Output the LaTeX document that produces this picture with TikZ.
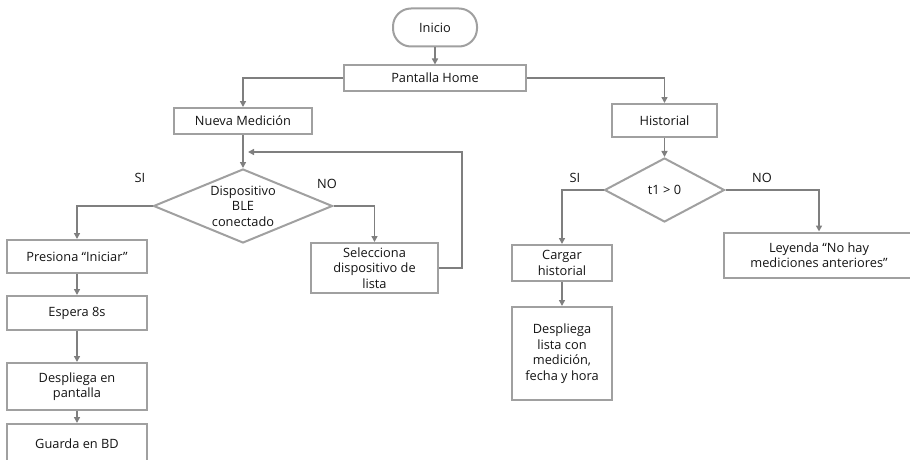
\documentclass[tikz,border=0pt]{standalone}
\usepackage{fontspec}
\setmainfont{Open Sans}
\usetikzlibrary{arrows.meta,shapes.geometric}
\definecolor{linegray}{RGB}{127,127,127}
\definecolor{boxgray}{RGB}{160,160,160}
\definecolor{txtgray}{RGB}{20,20,20}
\tikzset{every node/.style={font=\fontsize{12.8}{15.5}\selectfont, text=txtgray, align=center, inner sep=0pt},
  box/.style={rectangle, draw=boxgray, line width=2pt, fill=white},
  startbox/.style={box, rounded corners=18pt},
  decision/.style={diamond, draw=boxgray, line width=2pt, fill=white},
  flow/.style={draw=linegray, line width=1.6pt, -{Triangle[length=6pt,width=6pt]}}}

\begin{document}
\begin{tikzpicture}[x=1pt,y=-1pt]
   \useasboundingbox (0,0) rectangle (910,460);
   \node[startbox, minimum width=84pt, minimum height=38pt] (inicio) at (435,27.5) {Inicio};
   \node[box, minimum width=182pt, minimum height=25pt] (home) at (435,78) {Pantalla Home};
   \node[box, minimum width=138pt, minimum height=26pt] (nueva) at (243,121) {Nueva Medición};
   \node[box, minimum width=105pt, minimum height=33pt] (hist) at (664.5,120.5) {Historial};
   \node[decision, minimum width=179pt, minimum height=74pt] (ble) at (243,206) {};
   \node (bletxt) at (ble) {Dispositivo\\BLE\\conectado};
   \node[box, minimum width=127pt, minimum height=50pt] (selec) at (374.5,268) {Selecciona\\dispositivo de\\lista};
   \node[box, minimum width=140pt, minimum height=33pt] (presiona) at (77,256.5) {Presiona “Iniciar”};
   \node[box, minimum width=140pt, minimum height=34pt] (espera) at (77,313) {Espera 8s};
   \node[box, minimum width=140pt, minimum height=47pt] (despliega) at (77,386.5) {Despliega en\\pantalla};
   \node[box, minimum width=140pt, minimum height=40pt] (guarda) at (77,444) {Guarda en BD};
   \node[decision, minimum width=120pt, minimum height=64pt] (tuno) at (664.5,190) {};
   \node (tunotxt) at (tuno) {t1 > 0};
   \node[box, minimum width=100pt, minimum height=36pt] (cargar) at (562,263) {Cargar\\historial};
   \node[box, minimum width=100pt, minimum height=93pt] (lista) at (562,353.5) {Despliega\\lista con\\medición,\\fecha y hora};
   \node[box, minimum width=190pt, minimum height=45pt] (leyenda) at (819,255) {Leyenda “No hay\\mediciones anteriores”};
   \node (si1) at (140,178) {SI};
   \node (no1) at (327,184) {NO};
   \node (si2) at (575,178) {SI};
   \node (no2) at (762,178) {NO};
   \coordinate (loop) at (462,152);
   \coordinate (back) at (248,152);
   \draw[flow] (inicio) -- (home);
   \draw[flow] (home.west) -| (nueva);
   \draw[flow] (home.east) -| (hist);
   \draw[flow] (nueva) -- (ble);
   \draw[flow] (ble.west) -| (presiona);
   \draw[flow] (ble.east) -| (selec);
   \draw[flow] (selec.east) -| (loop) -- (back);
   \draw[flow] (presiona) -- (espera);
   \draw[flow] (espera) -- (despliega);
   \draw[flow] (despliega) -- (guarda);
   \draw[flow] (hist) -- (tuno);
   \draw[flow] (tuno.west) -| (cargar);
   \draw[flow] (tuno.east) -| (leyenda);
   \draw[flow] (cargar) -- (lista);
\end{tikzpicture}
\end{document}
